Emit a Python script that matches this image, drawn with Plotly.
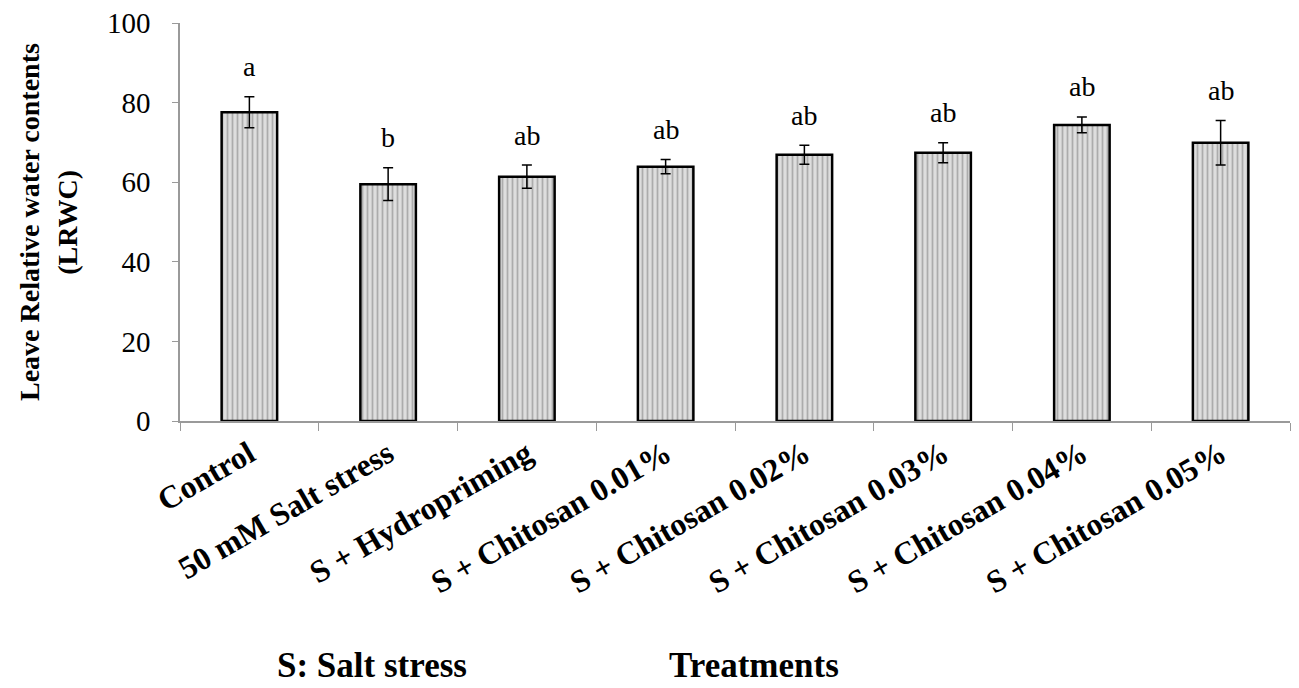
import plotly.graph_objects as go

treatments = ["Control", "50 mM Salt stress", "S + Hydropriming",
              "S + Chitosan 0.01%", "S + Chitosan 0.02%", "S + Chitosan 0.03%",
              "S + Chitosan 0.04%", "S + Chitosan 0.05%"]
lrwc = [77.6, 59.5, 61.4, 63.9, 66.9, 67.4, 74.4, 69.9]
lrwc_err = [3.9, 4.1, 2.9, 1.8, 2.4, 2.5, 2.0, 5.6]
letters = ["a", "b", "ab", "ab", "ab", "ab", "ab", "ab"]
y_ticks = [0, 20, 40, 60, 80, 100]

serif = "Liberation Serif, Times New Roman, serif"

fig = go.Figure()
fig.add_trace(go.Bar(
    x=treatments, y=lrwc, width=0.4,
    marker={"color": "#d6d6d6",
            "line": {"color": "black", "width": 2.5},
            "pattern": {"shape": "|", "fgcolor": "#7a7a7a", "bgcolor": "#dedede",
                        "size": 5, "solidity": 0.35}},
    error_y={"type": "data", "array": lrwc_err, "color": "black",
             "thickness": 1.5, "width": 5},
))

# significance letters above the error bars
for t, v, e, lab in zip(treatments, lrwc, lrwc_err, letters):
    fig.add_annotation(x=t, y=v + e, text=lab, showarrow=False, yanchor="middle",
                       yshift=30, font={"family": serif, "size": 28, "color": "black"})

fig.add_annotation(xref="paper", yref="paper", x=-0.136, y=0.5, xanchor="center",
                   yanchor="middle", textangle=-90, showarrow=False,
                   text="<b>Leave Relative water contents</b>",
                   font={"family": serif, "size": 28, "color": "black"})
fig.add_annotation(xref="paper", yref="paper", x=-0.102, y=0.5, xanchor="center",
                   yanchor="middle", textangle=-90, showarrow=False,
                   text="<b>(LRWC)</b>",
                   font={"family": serif, "size": 28, "color": "black"})
fig.add_annotation(xref="paper", yref="paper", x=0.173, y=-0.615, xanchor="center",
                   yanchor="middle", showarrow=False, text="<b>S: Salt stress</b>",
                   font={"family": serif, "size": 35, "color": "black"})
fig.add_annotation(xref="paper", yref="paper", x=0.517, y=-0.615, xanchor="center",
                   yanchor="middle", showarrow=False, text="<b>Treatments</b>",
                   font={"family": serif, "size": 35, "color": "black"})

fig.update_layout(
    width=1299, height=688,
    margin={"l": 172, "r": 17, "t": 15, "b": 275},
    plot_bgcolor="white", paper_bgcolor="white",
    showlegend=False,
    bargap=0.6,
    xaxis={"showline": True, "linecolor": "#9a9a9a", "linewidth": 1.5,
           "ticks": "outside", "tickson": "boundaries", "ticklen": 8,
           "tickcolor": "#9a9a9a", "tickangle": -30, "automargin": False,
           "tickprefix": "<b>", "ticksuffix": "</b>",
           "tickfont": {"family": serif, "size": 32, "color": "black"},
           "showgrid": False},
    yaxis={"range": [0, 100], "tickvals": y_ticks, "showline": True,
           "linecolor": "#9a9a9a", "linewidth": 1.5, "ticks": "outside",
           "ticklen": 6, "tickcolor": "#9a9a9a", "showgrid": False,
           "zeroline": False, "automargin": False, "ticklabelstandoff": 16,
           "ticklabeloverflow": "allow",
           "tickfont": {"family": serif, "size": 29, "color": "black"}},
)

fig.write_html("out.html")
